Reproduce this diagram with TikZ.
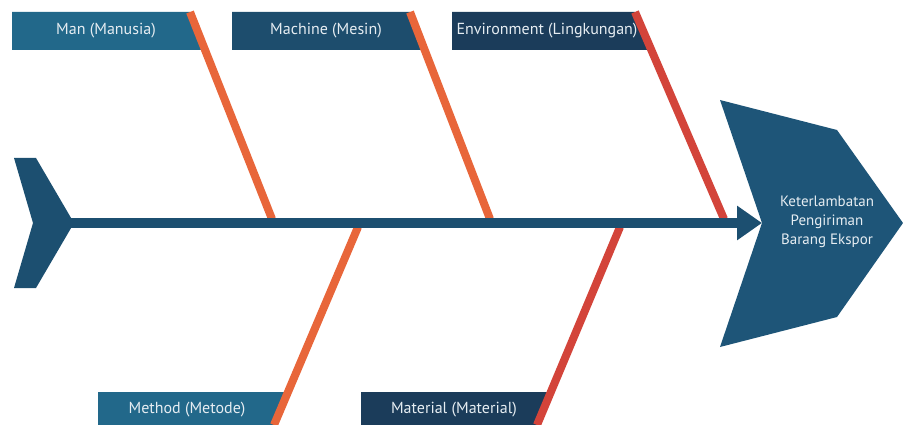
\documentclass[tikz,border=0pt]{standalone}
\usepackage{fontspec}
\setmainfont{PT Sans}
\usetikzlibrary{arrows.meta}
\definecolor{spineblue}{HTML}{1C4F70}
\definecolor{headblue}{HTML}{1E5578}
\definecolor{lightbox}{HTML}{22688A}
\definecolor{midbox}{HTML}{1D4D6D}
\definecolor{darkbox}{HTML}{1B3C5A}
\definecolor{boneorange}{HTML}{E8663A}
\definecolor{bonered}{HTML}{D3443A}
\definecolor{labeltext}{HTML}{E6EDF2}

\begin{document}
\begin{tikzpicture}[x=1pt, y=-1pt,
    bone/.style={line width=8pt},
    cattext/.style={text=labeltext, font=\fontsize{16}{18}\selectfont, inner sep=0pt},
    effecttext/.style={text=labeltext, font=\fontsize{15}{19}\selectfont, align=center, inner sep=0pt}]
                \useasboundingbox (0,0) rectangle (903,425);
                \coordinate (tailjoint) at (70,223);
                \coordinate (headnotch) at (762,223);
                \coordinate (manTop) at (190,12);
                \coordinate (manFoot) at (272,219);
                \coordinate (machineTop) at (410,12);
                \coordinate (machineFoot) at (490,219);
                \coordinate (envTop) at (635,12);
                \coordinate (envFoot) at (724,219);
                \coordinate (methodFoot) at (358,227);
                \coordinate (methodEnd) at (274,425);
                \coordinate (materialFoot) at (620,227);
                \coordinate (materialEnd) at (537,425);
                \fill[lightbox] (12,12) -- (manTop) -- (205,50) -- (12,50) -- cycle;
                \fill[midbox] (232,12) -- (machineTop) -- (425,50) -- (232,50) -- cycle;
                \fill[darkbox] (452,12) -- (envTop) -- (651,50) -- (452,50) -- cycle;
                \fill[lightbox] (98,392) -- (289,392) -- (methodEnd) -- (98,425) -- cycle;
                \fill[darkbox] (361,392) -- (551,392) -- (materialEnd) -- (361,425) -- cycle;
                \draw[bone, boneorange] (manTop) -- (manFoot);
                \draw[bone, boneorange] (machineTop) -- (machineFoot);
                \draw[bone, bonered] (envTop) -- (envFoot);
                \draw[bone, boneorange] (methodFoot) -- (methodEnd);
                \draw[bone, bonered] (materialFoot) -- (materialEnd);
                \fill[spineblue] (14,158) -- (36,158) -- (74,223) -- (36,288) -- (14,288) -- (33,223) -- cycle;
                \draw[line width=9pt, spineblue, -{Triangle[width=33pt, length=25pt]}] (tailjoint) -- (headnotch);
                \fill[headblue] (720,100) -- (837,130) -- (903,223) -- (837,317) -- (720,347) -- (headnotch) -- cycle;
                \node[cattext] (man) at (106,31) {Man (Manusia)};
                \node[cattext] (machine) at (326,31) {Machine (Mesin)};
                \node[cattext] (environment) at (547,31) {Environment (Lingkungan)};
                \node[cattext] (method) at (187,410) {Method (Metode)};
                \node[cattext] (material) at (454,410) {Material (Material)};
                \node[effecttext] (effect) at (827,222) {Keterlambatan\\Pengiriman\\Barang Ekspor};
            \end{tikzpicture}
\end{document}
